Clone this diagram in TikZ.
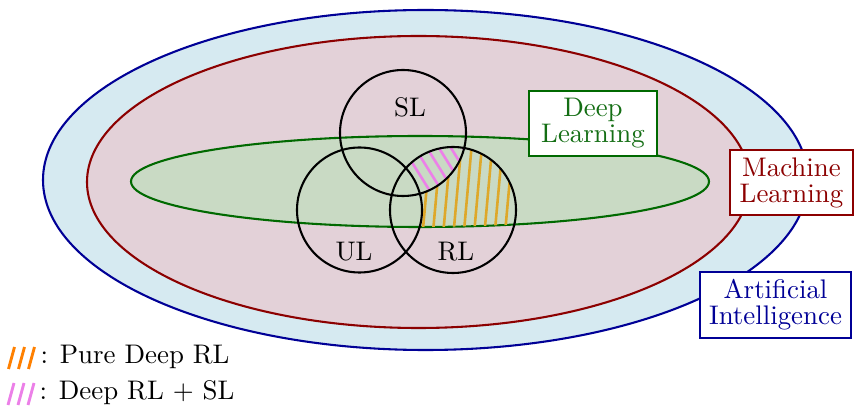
\documentclass[tikz,border=0pt]{standalone}
\usepackage{tikz}
\definecolor{aifill}{RGB}{214,234,241}
\definecolor{aidraw}{RGB}{0,0,150}
\definecolor{mlfill}{RGB}{227,209,216}
\definecolor{mldraw}{RGB}{140,0,0}
\definecolor{dlfill}{RGB}{201,218,196}
\definecolor{dldraw}{RGB}{0,105,0}
\definecolor{dltext}{RGB}{20,110,20}
\definecolor{hatchor}{RGB}{222,168,42}
\definecolor{legor}{RGB}{255,128,0}
\definecolor{hatchpk}{RGB}{236,128,232}
\tikzset{
  region/.style={line width=0.8pt},
  setcirc/.style={draw=black,line width=0.8pt},
  labelbox/.style={draw,fill=white,line width=0.8pt,align=center,font=\fontsize{10.35}{10}\selectfont,inner sep=0pt},
  hatchO/.style={hatchor,line width=1pt},
  hatchP/.style={hatchpk,line width=1pt},
  legO/.style={legor,line width=1.1pt},
  legP/.style={hatchpk,line width=1.1pt},
}
\begin{document}
\begin{tikzpicture}[x=0.385pt,y=-0.385pt,font=\fontsize{10.35}{12.4}\selectfont]
\useasboundingbox (0,0) rectangle (854,408);
% ellipses
\filldraw[region,fill=aifill,draw=aidraw] (425.5,180) ellipse [x radius=382.5,y radius=170];
\filldraw[region,fill=mlfill,draw=mldraw] (418.5,182) ellipse [x radius=331.5,y radius=146];
\filldraw[region,fill=dlfill,draw=dldraw] (420,181.5) ellipse [x radius=289,y radius=45.5];
% orange hatching: RL and DL, not SL, not UL
\begin{scope}[even odd rule]
  \clip (453,210) circle [radius=63];
  \clip (420,181.5) ellipse [x radius=289,y radius=45.5];
  \clip (0,0) rectangle (854,408) (403,133) circle [radius=63];
  \clip (0,0) rectangle (854,408) (359.5,210) circle [radius=62.5];
  \foreach \k in {-7,...,9} {
    \draw[hatchO] ({440.8+10.3*\k},260) -- ({440.8+10.3*\k+11.7},130);
  }
\end{scope}
% pink hatching: RL and SL, not UL
\begin{scope}[even odd rule]
  \clip (453,210) circle [radius=63];
  \clip (403,133) circle [radius=63];
  \clip (420,181.5) ellipse [x radius=289,y radius=45.5];
  \clip (0,0) rectangle (854,408) (359.5,210) circle [radius=62.5];
  \foreach \k in {-6,...,6} {
    \draw[hatchP] ({415.75+12*\k},130) -- ({415.75+12*\k+45},202);
  }
\end{scope}
% set circles
\draw[setcirc] (403,133) circle [radius=63];
\draw[setcirc] (359.5,210) circle [radius=62.5];
\draw[setcirc] (453,210) circle [radius=63];
\node (sl) at (410,107) {SL};
\node (ul) at (354,252) {UL};
\node (rl) at (456,252) {RL};
% label boxes
\node[labelbox,draw=dldraw,text=dltext,minimum width=128*0.385pt,minimum height=65*0.385pt] (dl) at (593,123.5) {Deep\\Learning};
\node[labelbox,draw=mldraw,text=mldraw,minimum width=123*0.385pt,minimum height=65*0.385pt] (ml) at (791.5,182.5) {Machine\\Learning};
\node[labelbox,draw=aidraw,text=aidraw,minimum width=151*0.385pt,minimum height=66*0.385pt] (ai) at (775.5,305) {Artificial\\Intelligence};
% legend
\foreach \k in {0,1,2} {
  \draw[legO] ({8.5+10*\k},369) -- ({14.5+10*\k},347);
  \draw[legP] ({8+10*\k},405) -- ({14+10*\k},383);
}
\node[anchor=west,inner sep=0pt] (leg1) at (40,357) {: Pure Deep RL};
\node[anchor=west,inner sep=0pt] (leg2) at (39,393) {: Deep RL + SL};
\end{tikzpicture}
\end{document}
